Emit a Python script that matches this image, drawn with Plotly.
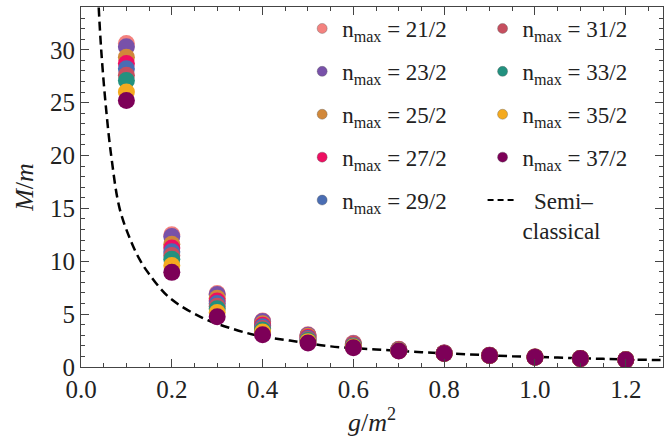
import plotly.graph_objects as go

g = [0.1, 0.2, 0.3, 0.4, 0.5, 0.6, 0.7, 0.8, 0.9, 1.0, 1.1, 1.2]

n21 = [30.6, 12.5, 6.95, 4.35, 3.05, 2.25, 1.68, 1.33, 1.10, 0.94, 0.81, 0.69]
n23 = [30.3, 12.35, 6.85, 4.30, 3.00, 2.20, 1.66, 1.32, 1.10, 0.94, 0.81, 0.69]
n25 = [29.3, 11.6, 6.50, 4.10, 2.90, 2.15, 1.63, 1.31, 1.09, 0.94, 0.80, 0.68]
n27 = [28.7, 11.25, 6.25, 3.95, 2.80, 2.10, 1.61, 1.30, 1.09, 0.93, 0.80, 0.68]
n29 = [28.2, 10.9, 6.00, 3.80, 2.70, 2.05, 1.59, 1.30, 1.09, 0.93, 0.80, 0.68]
n31 = [27.6, 10.55, 5.75, 3.65, 2.60, 2.00, 1.57, 1.29, 1.08, 0.93, 0.80, 0.68]
n33 = [27.1, 10.2, 5.50, 3.50, 2.50, 1.95, 1.55, 1.28, 1.08, 0.93, 0.80, 0.68]
n35 = [26.0, 9.6, 5.15, 3.30, 2.40, 1.90, 1.54, 1.28, 1.08, 0.93, 0.80, 0.68]
n37 = [25.2, 8.95, 4.75, 3.05, 2.28, 1.82, 1.52, 1.27, 1.08, 0.93, 0.80, 0.68]

series_labels = ["21/2", "23/2", "25/2", "27/2", "29/2", "31/2", "33/2", "35/2", "37/2"]
series_values = [n21, n23, n25, n27, n29, n31, n33, n35, n37]
colors = ["#f4827f", "#7851a9", "#d1883a", "#ee0f62", "#4a6db3",
          "#c64f5f", "#22917f", "#f4aa1f", "#7d0058"]

# semiclassical curve
semi_g = [0.039, 0.0445, 0.054, 0.0665, 0.085, 0.11, 0.13, 0.15, 0.195, 0.27,
          0.335, 0.39, 0.46, 0.55, 0.65, 0.75, 0.85, 0.95, 1.05, 1.15, 1.3]
semi_M = [34.0, 30.0, 25.0, 20.0, 15.0, 11.9, 10.1, 8.8, 6.55, 4.6,
          3.6, 2.96, 2.5, 1.95, 1.66, 1.4, 1.2, 1.02, 0.89, 0.77, 0.63]

FONT = "Liberation Serif, Times New Roman, Nimbus Roman, FreeSerif, DejaVu Serif, Noto Serif, serif"

fig = go.Figure()

fig.add_trace(go.Scatter(x=semi_g, y=semi_M, mode="lines", line_shape="spline",
                         line=dict(color="black", width=2.5, dash="9px,5px"),
                         showlegend=False, hoverinfo="skip"))

for lab, vals, col in zip(series_labels, series_values, colors):
    fig.add_trace(go.Scatter(x=g, y=vals, mode="markers",
                             marker=dict(size=17, color=col, line=dict(width=0)),
                             showlegend=False))

# legend entries
for i, (lab, col) in enumerate(zip(series_labels, colors)):
    fig.add_trace(go.Scatter(x=[None], y=[None], mode="markers",
                             marker=dict(size=10, color=col, line=dict(width=0.6, color="rgba(90,90,90,0.6)")),
                             name="n<sub>max</sub> = " + lab,
                             legend="legend" if i < 5 else "legend2",
                             legendgroup="g%d" % i))
fig.add_trace(go.Scatter(x=[None], y=[None], mode="lines",
                         line=dict(color="black", width=2, dash="6px,4px"),
                         name="\u00a0\u00a0Semi\u2013<br>classical",
                         legend="legend2", legendgroup="gs"))

legend_common = dict(font=dict(family=FONT, size=23, color="#222"),
                     bgcolor="rgba(0,0,0,0)", tracegroupgap=10,
                     itemsizing="trace", yanchor="top", xanchor="left")

fig.update_layout(
    width=670, height=444,
    margin=dict(l=81, r=7, t=7, b=77),
    plot_bgcolor="white", paper_bgcolor="white",
    font=dict(family=FONT, size=25, color="#222"),
    legend=dict(x=0.38, y=1.0, **legend_common),
    legend2=dict(x=0.69, y=1.0, valign="top", **legend_common),
    showlegend=True,
)

axis_common = dict(showgrid=False, zeroline=False, showline=True, linecolor="#444",
                   linewidth=1.2, mirror="allticks", ticks="inside", ticklen=8,
                   tickwidth=1, tickcolor="#444",
                   tickfont=dict(family=FONT, size=25, color="#222"))

fig.update_xaxes(range=[0, 1.282], dtick=0.2, tick0=0, tickformat=".1f",
                 minor=dict(ticks="inside", ticklen=4, dtick=0.05, tickcolor="#444"),
                 title=dict(text="<i>g</i>/<i>m</i><sup>2</sup>", font=dict(family=FONT, size=26),
                            standoff=10),
                 **axis_common)
fig.update_yaxes(range=[0, 34.05], dtick=5, tick0=0,
                 minor=dict(ticks="inside", ticklen=4, dtick=1, tickcolor="#444"),
                 title=dict(text="<i>M</i>/<i>m</i>", font=dict(family=FONT, size=26),
                            standoff=8),
                 **axis_common)

fig.write_html("out.html")
